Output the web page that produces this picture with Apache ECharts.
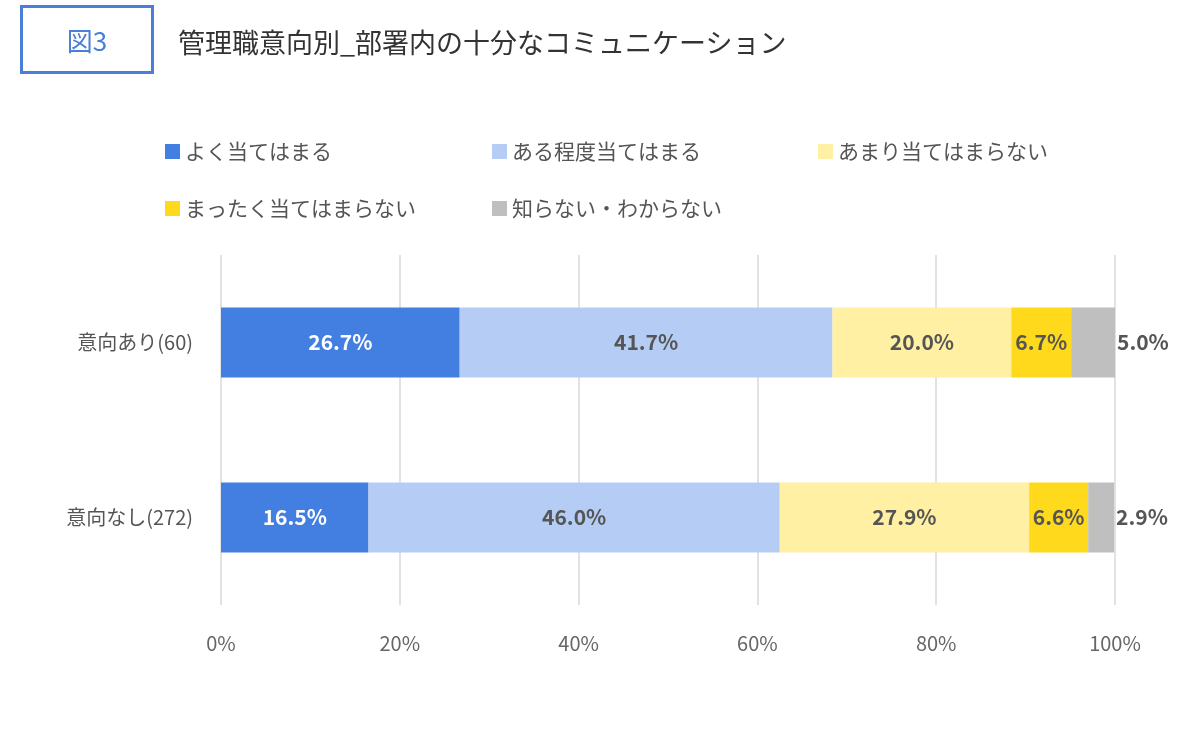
<!DOCTYPE html>
<html><head><meta charset="utf-8">
<script src="https://cdn.jsdelivr.net/npm/echarts@6/dist/echarts.min.js"></script>
<style>
body{margin:0;background:#fff;font-family:"Noto Sans CJK JP",sans-serif;}
#box{position:absolute;left:20px;top:5px;width:128px;height:63px;border:3px solid #4a7fd6;color:#4a7fd6;font-size:26px;line-height:63px;text-align:center;}
#title{position:absolute;left:178px;top:22px;font-size:27px;color:#333;}
#chart{position:absolute;left:0;top:0;width:1200px;height:730px;}
</style></head><body>
<div id="chart"></div>
<div id="box">図3</div>
<div id="title">管理職意向別_部署内の十分なコミュニケーション</div>
<script>
var categories = ['意向あり(60)', '意向なし(272)'];
var seriesNames = ['よく当てはまる', 'ある程度当てはまる', 'あまり当てはまらない', 'まったく当てはまらない', '知らない・わからない'];
var seriesValues = [
  [26.7, 16.5],
  [41.7, 46.0],
  [20.0, 27.9],
  [6.7, 6.6],
  [5.0, 2.9]
];
var colors = ['#437fe0', '#b5cdf5', '#fff0a3', '#ffd91c', '#bfbfbf'];
var legendPos = [[160, 136], [487, 136], [813, 136], [160, 193], [487, 193]];

var chart = echarts.init(document.getElementById('chart'));
var series = seriesNames.map(function (n, i) {
  return {
    name: n, type: 'bar', stack: 'all', data: seriesValues[i], barWidth: 70,
    itemStyle: {color: colors[i]},
    label: {
      show: true, position: i === 4 ? 'right' : 'inside', distance: 2,
      formatter: function (p) { return p.value.toFixed(1) + '%'; },
      color: i === 0 ? '#fff' : '#555', fontSize: 21, fontWeight: 'bold'
    }
  };
});
chart.setOption({
  textStyle: {fontFamily: '"Noto Sans CJK JP", sans-serif'},
  animation: false,
  color: colors,
  legend: seriesNames.map(function (n, i) {
    return {data: [n], left: legendPos[i][0], top: legendPos[i][1], icon: 'rect',
      itemWidth: 15, itemHeight: 15, textStyle: {fontSize: 21, color: '#555'}};
  }),
  grid: {left: 221, right: 85, top: 255, bottom: 125},
  xAxis: {
    type: 'value', min: 0, max: 100, interval: 20,
    axisLabel: {formatter: '{value}%', fontSize: 20, color: '#666', margin: 28},
    splitLine: {lineStyle: {color: '#d9d9d9', width: 1.5}},
    axisLine: {show: false}, axisTick: {show: false}
  },
  yAxis: {
    type: 'category', data: categories, inverse: true,
    axisLabel: {fontSize: 20, color: '#555', margin: 28},
    axisLine: {show: false}, axisTick: {show: false}
  },
  series: series
});
</script>
</body></html>
